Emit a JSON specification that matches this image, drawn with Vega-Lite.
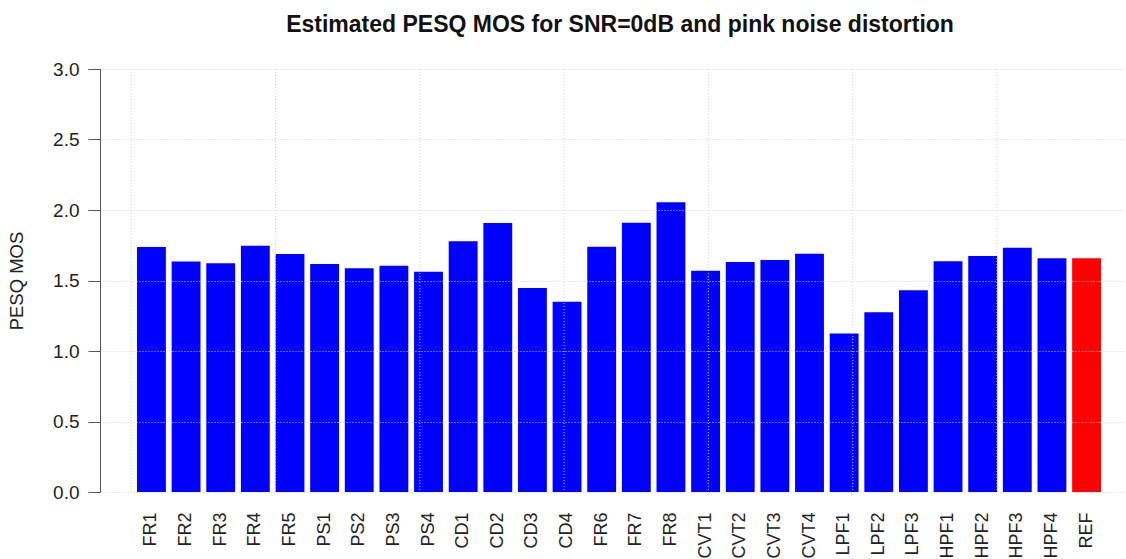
{
  "$schema": "https://vega.github.io/schema/vega-lite/v6.json",
  "width": 1026,
  "height": 423,
  "autosize": {"type": "none"},
  "padding": {"left": 100, "top": 69, "right": 0, "bottom": 67},
  "background": "white",
  "title": {
    "text": "Estimated PESQ MOS for SNR=0dB and pink noise distortion",
    "font": "Liberation Sans",
    "fontSize": 23,
    "fontWeight": "bold",
    "color": "#111111",
    "anchor": "middle",
    "offset": 23,
    "dx": 7
  },
  "config": {"view": {"stroke": null}, "font": "Liberation Sans"},
  "layer": [
    {
      "data": {
        "values": [
          {"condition": "FR1", "mos": 1.738, "group": "degraded"},
          {"condition": "FR2", "mos": 1.634, "group": "degraded"},
          {"condition": "FR3", "mos": 1.622, "group": "degraded"},
          {"condition": "FR4", "mos": 1.747, "group": "degraded"},
          {"condition": "FR5", "mos": 1.688, "group": "degraded"},
          {"condition": "PS1", "mos": 1.617, "group": "degraded"},
          {"condition": "PS2", "mos": 1.587, "group": "degraded"},
          {"condition": "PS3", "mos": 1.605, "group": "degraded"},
          {"condition": "PS4", "mos": 1.562, "group": "degraded"},
          {"condition": "CD1", "mos": 1.778, "group": "degraded"},
          {"condition": "CD2", "mos": 1.908, "group": "degraded"},
          {"condition": "CD3", "mos": 1.447, "group": "degraded"},
          {"condition": "CD4", "mos": 1.349, "group": "degraded"},
          {"condition": "FR6", "mos": 1.740, "group": "degraded"},
          {"condition": "FR7", "mos": 1.910, "group": "degraded"},
          {"condition": "FR8", "mos": 2.055, "group": "degraded"},
          {"condition": "CVT1", "mos": 1.570, "group": "degraded"},
          {"condition": "CVT2", "mos": 1.631, "group": "degraded"},
          {"condition": "CVT3", "mos": 1.646, "group": "degraded"},
          {"condition": "CVT4", "mos": 1.690, "group": "degraded"},
          {"condition": "LPF1", "mos": 1.125, "group": "degraded"},
          {"condition": "LPF2", "mos": 1.274, "group": "degraded"},
          {"condition": "LPF3", "mos": 1.430, "group": "degraded"},
          {"condition": "HPF1", "mos": 1.636, "group": "degraded"},
          {"condition": "HPF2", "mos": 1.674, "group": "degraded"},
          {"condition": "HPF3", "mos": 1.733, "group": "degraded"},
          {"condition": "HPF4", "mos": 1.658, "group": "degraded"},
          {"condition": "REF", "mos": 1.658, "group": "reference"}
        ]
      },
      "mark": {"type": "bar"},
      "encoding": {
        "x": {
          "field": "condition",
          "type": "nominal",
          "sort": null,
          "scale": {"paddingInner": 0.1667, "paddingOuter": 0.895, "align": 0.597},
          "axis": {
            "title": null,
            "labelAngle": 270,
            "domain": false,
            "ticks": false,
            "grid": false,
            "labelPadding": 20,
            "labelFontSize": 18,
            "labelColor": "#222222",
            "labelFont": "Liberation Sans"
          }
        },
        "y": {
          "field": "mos",
          "type": "quantitative",
          "scale": {"domain": [0, 3], "nice": false},
          "axis": {
            "values": [0, 0.5, 1, 1.5, 2, 2.5, 3],
            "format": ".1f",
            "grid": true,
            "gridColor": "#D3D3D3",
            "gridDash": [1, 2],
            "domainColor": "#555555",
            "tickColor": "#555555",
            "tickSize": 12,
            "labelPadding": 9,
            "labelFontSize": 19,
            "labelColor": "#222222",
            "labelFont": "Liberation Sans",
            "title": "PESQ MOS",
            "titleFont": "Liberation Sans",
            "titleFontSize": 18.5,
            "titleFontWeight": "normal",
            "titleColor": "#222222",
            "titlePadding": 26,
            "zindex": 1
          }
        },
        "color": {
          "field": "group",
          "type": "nominal",
          "scale": {"domain": ["degraded", "reference"], "range": ["#0000FF", "#FF0000"]},
          "legend": null
        }
      }
    },
    {
      "data": {"values": [{"gx": 0}, {"gx": 5}, {"gx": 10}, {"gx": 15}, {"gx": 20}, {"gx": 25}, {"gx": 30}]},
      "mark": {"type": "rule", "color": "#D3D3D3", "strokeDash": [1, 2]},
      "encoding": {
        "x": {
          "field": "gx",
          "type": "quantitative",
          "scale": {"domain": [-1.081, 34.47], "nice": false, "zero": false},
          "axis": null
        }
      }
    }
  ],
  "resolve": {"scale": {"x": "independent"}}
}
